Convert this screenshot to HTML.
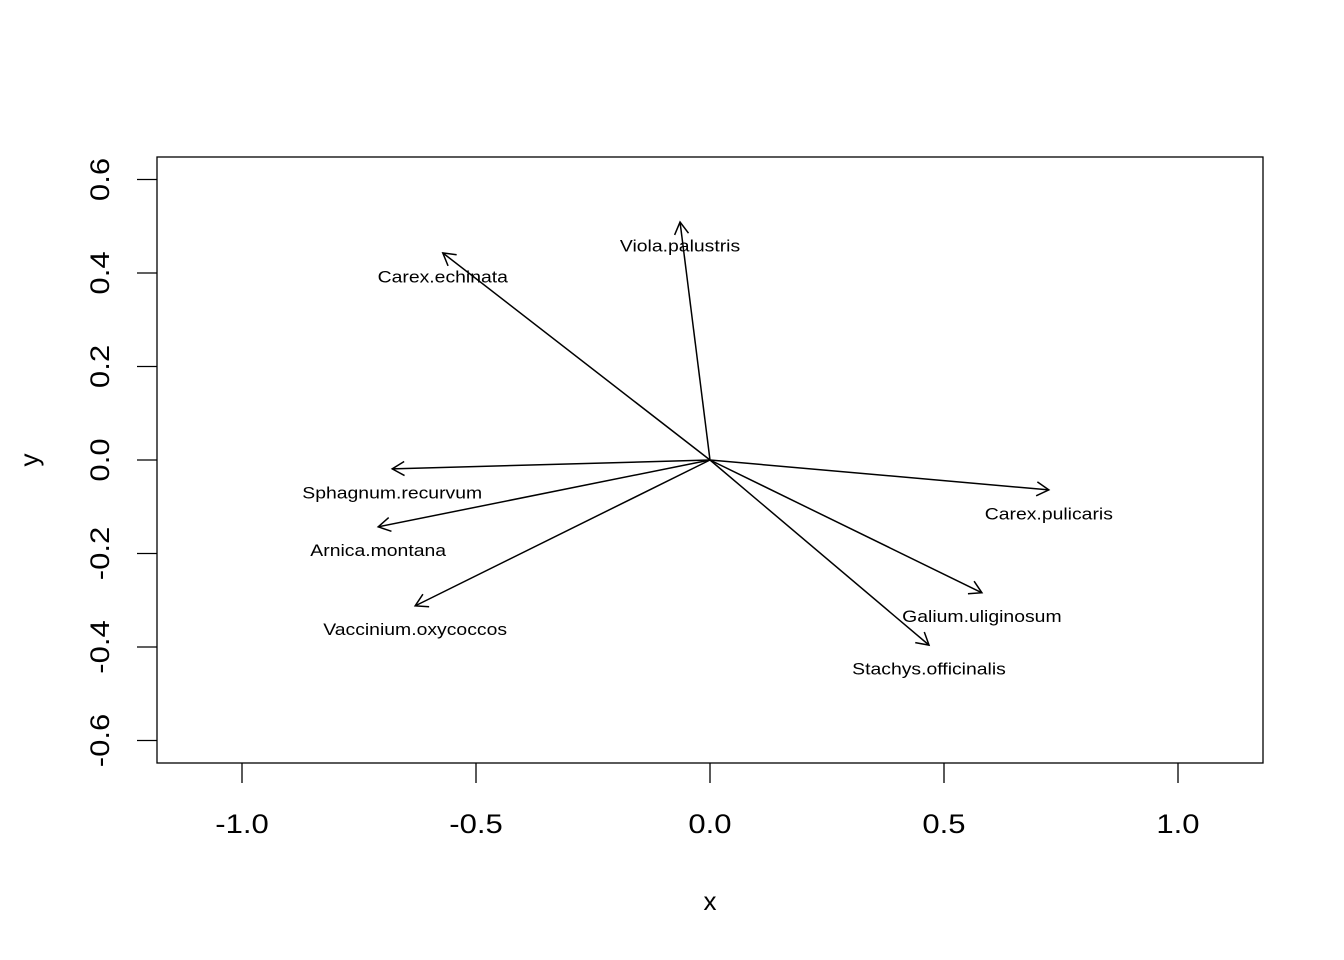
<!DOCTYPE html>
<html><head><meta charset="utf-8"><style>
body{margin:0;background:#fff}
svg{display:block;font-family:"Liberation Sans",sans-serif}
</style></head><body>
<svg id="chart" width="1344" height="960" xmlns="http://www.w3.org/2000/svg">
<rect x="157" y="157" width="1106" height="606" fill="none" stroke="#000" stroke-width="1.3"/>
<text x="710" y="910" font-size="26" text-anchor="middle">x</text>
<text transform="translate(38,460) rotate(-90)" font-size="26" text-anchor="middle">y</text>
<g id="axes"></g>
<g id="arrows"></g>
</svg>
<script>
const species = ["Viola.palustris","Carex.echinata","Sphagnum.recurvum","Arnica.montana","Vaccinium.oxycoccos","Carex.pulicaris","Galium.uliginosum","Stachys.officinalis"];
const xVals = [-0.064,-0.571,-0.679,-0.709,-0.630,0.724,0.581,0.468];
const yVals = [0.509,0.443,-0.019,-0.143,-0.312,-0.064,-0.284,-0.396];
const xTicks = [-1.0,-0.5,0.0,0.5,1.0];
const yTicks = [-0.6,-0.4,-0.2,0.0,0.2,0.4,0.6];
const xTickLabels = ["-1.0","-0.5","0.0","0.5","1.0"];
const yTickLabels = ["-0.6","-0.4","-0.2","0.0","0.2","0.4","0.6"];

const NS="http://www.w3.org/2000/svg";
function sx(v){return 710+v*468;}
function sy(v){return 460-v*467.5;}
function mk(tag,attrs,parent){const e=document.createElementNS(NS,tag);for(const k in attrs)e.setAttribute(k,attrs[k]);parent.appendChild(e);return e;}
function stretch(t,f){const w=t.getComputedTextLength();t.setAttribute('textLength',w*f);t.setAttribute('lengthAdjust','spacingAndGlyphs');}
const axes=document.getElementById('axes');
xTicks.forEach((t,i)=>{
  const l=mk('line',{x1:sx(t),x2:sx(t),y1:763,y2:783,stroke:'#000','stroke-width':1.3},axes);
  
  
  const tx=mk('text',{x:sx(t),y:833,'font-size':27,'text-anchor':'middle'},axes);
  tx.textContent=xTickLabels[i];
  
  
  stretch(tx,1.15);
});
yTicks.forEach((t,i)=>{
  const l=mk('line',{x1:137,x2:157,y1:sy(t),y2:sy(t),stroke:'#000','stroke-width':1.3},axes);
  
  
  const tx=mk('text',{transform:`translate(109,${sy(t)}) rotate(-90)`,'font-size':27,'text-anchor':'middle'},axes);
  tx.textContent=yTickLabels[i];
  
  
  stretch(tx,1.15);
});
const ag=document.getElementById('arrows');
species.forEach((s,i)=>{
  const x0=sx(0),y0=sy(0),x1=sx(xVals[i]),y1=sy(yVals[i]);
  const ang=Math.atan2(y1-y0,x1-x0),L=14,a=Math.PI/6;
  const g=mk('g',{},ag);
  
  
  mk('line',{x1:x0,y1:y0,x2:x1,y2:y1,stroke:'#000','stroke-width':1.5},g);
  const hx1=x1-L*Math.cos(ang-a),hy1=y1-L*Math.sin(ang-a);
  const hx2=x1-L*Math.cos(ang+a),hy2=y1-L*Math.sin(ang+a);
  mk('polyline',{points:`${hx1},${hy1} ${x1},${y1} ${hx2},${hy2}`,fill:'none',stroke:'#000','stroke-width':1.5},g);
  const tx=mk('text',{x:x1,y:sy(yVals[i]-0.05)+6,'font-size':17,'text-anchor':'middle'},ag);
  tx.textContent=s;
  
  
  stretch(tx,1.14);
});
</script>
</body></html>
